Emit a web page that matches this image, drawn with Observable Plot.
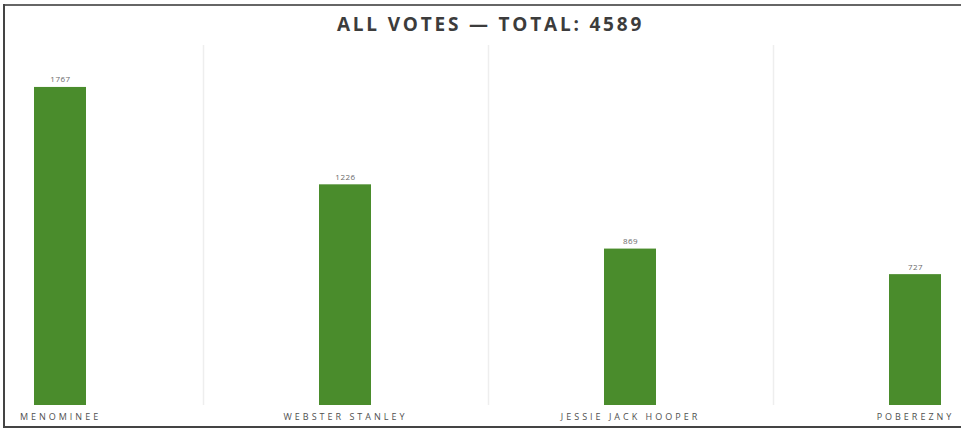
<!DOCTYPE html>
<html>
<head>
<meta charset="utf-8">
<script src="https://cdn.jsdelivr.net/npm/d3@7"></script>
<script src="https://cdn.jsdelivr.net/npm/@observablehq/plot@0.6"></script>
<style>
  html, body { margin: 0; padding: 0; background: #fff; overflow: hidden; }
  #wrap { position: relative; width: 961px; height: 432px; overflow: hidden; font-family: "Open Sans", sans-serif; }
  .line { position: absolute; background: #555; }
  #topline { left: 3px; top: 4px; width: 958px; height: 2px; background: #666; }
  #leftline { left: 3px; top: 4px; width: 2px; height: 424px; background: #444; }
  #bottomline { left: 3px; top: 426px; width: 958px; height: 2px; background: #444; }
  #title { position: absolute; top: 11px; left: 0; width: 961px; text-align: center; padding-left: 20px; box-sizing: border-box; font-size: 19px; font-weight: 700; color: #3c3c3c; letter-spacing: 2.8px; line-height: 26px; }
  #chart { position: absolute; top: 40px; left: 0; }
  #chart svg [aria-label="x-axis tick label"] text { letter-spacing: 3px; }
  #chart svg [aria-label="text"] text { letter-spacing: 0.5px; }
</style>
</head>
<body>
<div id="wrap">
  <div class="line" id="topline"></div>
  <div class="line" id="leftline"></div>
  <div class="line" id="bottomline"></div>
  <div id="title">ALL VOTES — TOTAL: 4589</div>
  <div id="chart"></div>
</div>
<script>
const candidates = ["MENOMINEE", "WEBSTER STANLEY", "JESSIE JACK HOOPER", "POBEREZNY"];
const votes = [1767, 1226, 869, 727];
const yDomain = [0, 2000];

const data = candidates.map((c, i) => ({candidate: c, votes: votes[i]}));

const plot = Plot.plot({
  width: 961,
  height: 388,
  marginTop: 5,
  marginBottom: 23,
  marginLeft: 0,
  marginRight: 0,
  style: {fontFamily: "'Open Sans', sans-serif", background: "transparent"},
  x: {domain: candidates, range: [32, 942], paddingInner: 0.818, paddingOuter: 0},
  y: {domain: yDomain, axis: null},
  marks: [
    Plot.ruleX(candidates.slice(0, 3), {x: d => d, dx: 143, stroke: "#eeeeee", strokeWidth: 1.5}),
    Plot.barY(data, {x: "candidate", y: "votes", fill: "#4a8c2c"}),
    Plot.text(data, {x: "candidate", y: "votes", text: d => String(d.votes), lineAnchor: "bottom", dy: -5, fontSize: 8, fill: "#6a6a6a"}),
    Plot.axisX({tickSize: 0, tickPadding: 8, fontSize: 9, fill: "#505050", label: null})
  ]
});
document.getElementById("chart").appendChild(plot);
</script>
</body>
</html>
